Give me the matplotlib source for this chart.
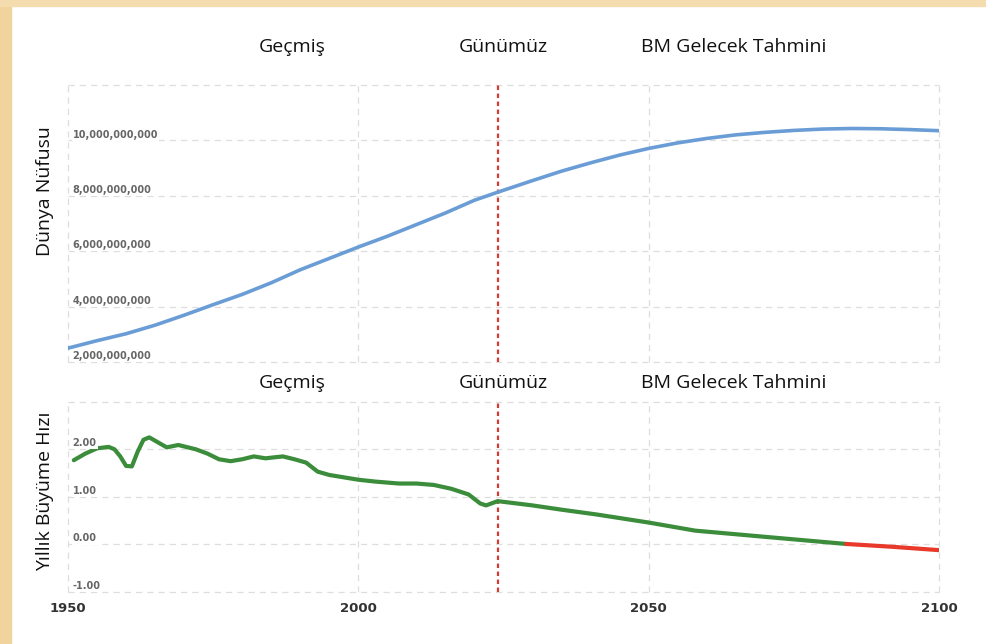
import matplotlib.pyplot as plt
from matplotlib.patches import Rectangle
from matplotlib import transforms

# === Data ===
pop_years = [1950, 1955, 1960, 1965, 1970, 1975, 1980, 1985, 1990, 1995, 2000, 2005,
             2010, 2015, 2020, 2024, 2030, 2035, 2040, 2045, 2050, 2055, 2060, 2065,
             2070, 2075, 2080, 2085, 2090, 2095, 2100]
pop_values = [2.5e9, 2.77e9, 3.02e9, 3.33e9, 3.69e9, 4.07e9, 4.44e9, 4.86e9, 5.33e9, 5.74e9,
              6.15e9, 6.54e9, 6.96e9, 7.38e9, 7.84e9, 8.13e9, 8.55e9, 8.89e9, 9.19e9, 9.47e9,
              9.71e9, 9.91e9, 10.07e9, 10.2e9, 10.29e9, 10.36e9, 10.41e9, 10.43e9, 10.42e9,
              10.39e9, 10.35e9]

rate_years = [1951, 1953, 1955, 1957, 1958, 1959, 1960, 1961, 1962, 1963, 1964, 1967, 1969,
              1972, 1974, 1976, 1978, 1980, 1982, 1984, 1987, 1989, 1991, 1993, 1995, 2000,
              2003, 2007, 2010, 2013, 2016, 2019, 2021, 2022, 2024, 2030, 2035, 2041, 2050,
              2058, 2070, 2084]
rate_values = [1.77, 1.91, 2.02, 2.05, 2.0, 1.85, 1.65, 1.64, 1.95, 2.2, 2.25, 2.04, 2.09,
               2.0, 1.91, 1.79, 1.75, 1.79, 1.85, 1.81, 1.85, 1.79, 1.72, 1.53, 1.46, 1.36,
               1.32, 1.28, 1.28, 1.25, 1.17, 1.05, 0.86, 0.82, 0.91, 0.82, 0.73, 0.63, 0.46,
               0.29, 0.16, 0.01]
# negative-growth tail (drawn in red)
neg_years = [2084, 2092, 2100]
neg_values = [0.01, -0.05, -0.12]

now_year = 2024
x_ticks = [1950, 2000, 2050, 2100]
pop_ticks = [2e9, 4e9, 6e9, 8e9, 10e9, 12e9]
pop_labels = ['2,000,000,000', '4,000,000,000', '6,000,000,000', '8,000,000,000', '10,000,000,000']
rate_ticks = [-1, 0, 1, 2, 3]
rate_labels = ['-1.00', '0.00', '1.00', '2.00']
sections = ['Geçmiş', 'Günümüz', 'BM Gelecek Tahmini']
section_x = [1988.6, 2024.9, 2064.7]

font = 'Open Sans'
grid_kw = dict(color='#dedede', linestyle=(0, (5, 4)), linewidth=0.9)

fig = plt.figure(figsize=(9.86, 6.44), dpi=100)
fig.patches.append(Rectangle((0, 0), 11 / 986, 1, transform=fig.transFigure,
                             color='#f1d39d', zorder=0))
fig.patches.append(Rectangle((0, 1 - 6 / 644), 1, 6 / 644, transform=fig.transFigure,
                             color='#f5dcae', zorder=0))

ax1 = fig.add_axes([68 / 986, 1 - 362 / 644, 871 / 986, 277 / 644])
ax2 = fig.add_axes([68 / 986, 1 - 592 / 644, 871 / 986, 190.3 / 644])

for ax in (ax1, ax2):
    ax.set_xlim(1950, 2100)
    ax.set_xticks(x_ticks)
    for s in ax.spines.values():
        s.set_visible(False)
    ax.grid(True, **grid_kw)
    ax.set_axisbelow(True)
    ax.axvline(now_year, color='#d63b31', linestyle=(0, (2, 1.6)), linewidth=1.6, zorder=2)

# === Population panel ===
ax1.set_ylim(2e9, 12e9)
ax1.set_yticks(pop_ticks)
ax1.tick_params(length=0, labelleft=False, labelbottom=False)
ax1.plot(pop_years, pop_values, color='#6a9dd6', linewidth=2.6, zorder=3,
         solid_capstyle='round', solid_joinstyle='round')
for v, lab in zip(pop_ticks, pop_labels):
    ax1.text(1950.8, v + 0.03e9, lab, ha='left', va='bottom', fontsize=7, fontweight='bold',
             color='#666666', zorder=4, bbox=dict(fc='white', ec='none', pad=0.8))

# === Growth rate panel ===
ax2.set_ylim(-1, 3)
ax2.set_yticks(rate_ticks)
ax2.tick_params(axis='y', length=0, labelleft=False)
ax2.tick_params(axis='x', length=0, pad=7, labelsize=9.5, labelcolor='#333333')
for t in ax2.get_xticklabels():
    t.set_fontweight('bold')
ax2.plot(rate_years, rate_values, color='#3b8c3b', linewidth=3, zorder=3,
         solid_capstyle='round', solid_joinstyle='round')
ax2.plot(neg_years, neg_values, color='#e8392b', linewidth=3, zorder=3,
         solid_capstyle='round')
for v, lab in zip(rate_ticks, rate_labels):
    ax2.text(1950.8, v + 0.02, lab, ha='left', va='bottom', fontsize=7, fontweight='bold',
             color='#666666', zorder=4, bbox=dict(fc='white', ec='none', pad=0.8))

for ax in (ax1, ax2):
    for line in ax.get_xgridlines() + ax.get_ygridlines():
        line.set_clip_on(False)

# section headings
tr1 = transforms.blended_transform_factory(ax1.transData, ax1.transAxes)
tr2 = transforms.blended_transform_factory(ax2.transData, ax2.transAxes)
for name, x in zip(sections, section_x):
    ax1.text(x, 1.137, name, transform=tr1, ha='center', va='center', fontsize=14,
             family=font, color='#111111')
    ax2.text(x, 1.098, name, transform=tr2, ha='center', va='center', fontsize=14,
             family=font, color='#111111')

fig.text(45 / 986, 1 - 191 / 644, 'Dünya Nüfusu', rotation=90, ha='center', va='center',
         fontsize=14, family=font, color='#111111')
fig.text(45 / 986, 1 - 491 / 644, 'Yıllık Büyüme Hızı', rotation=90, ha='center',
         va='center', fontsize=14, family=font, color='#111111')

fig.savefig('out.png', dpi=100)
